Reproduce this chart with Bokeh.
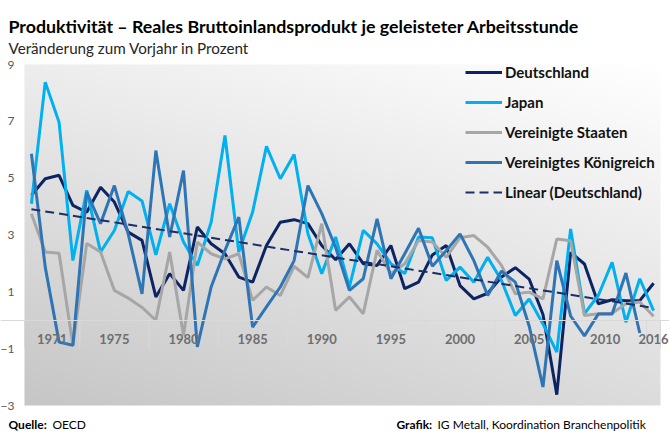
import numpy as np
from bokeh.plotting import figure
from bokeh.models import FixedTicker, LinearAxis, Legend, LegendItem, Range1d
from bokeh.core.properties import value
from bokeh.embed import file_html
from bokeh.resources import INLINE

# ---------------- data ----------------
years = list(range(1971, 2017))
deutschland = [4.40, 4.98, 5.10, 4.04, 3.80, 4.68, 4.16, 3.10, 2.81, 0.82,
               1.64, 1.05, 3.28, 2.69, 2.34, 1.52, 1.34, 2.63, 3.45, 3.54,
               3.40, 2.63, 2.13, 2.69, 1.99, 1.93, 2.63, 1.11, 1.34, 2.30,
               2.63, 1.22, 0.75, 0.95, 1.52, 1.85, 1.45, 0.20, -2.62, 2.39,
               1.98, 0.58, 0.72, 0.69, 0.69, 1.30]
japan = [4.10, 8.38, 6.97, 2.10, 4.57, 2.40, 3.16, 4.53, 4.20, 2.30,
         4.10, 2.75, 1.93, 3.45, 6.50, 2.40, 3.81, 6.12, 4.98, 5.83,
         3.04, 1.64, 2.93, 1.17, 3.16, 2.69, 1.99, 1.64, 2.93, 2.90,
         1.40, 1.87, 1.34, 2.22, 1.40, 0.17, 0.75, -0.13, -1.12, 3.21,
         0.23, 0.87, 2.04, -0.07, 1.46, 0.34]
usa = [3.75, 2.40, 2.36, -0.88, 2.70, 2.40, 1.05, 0.78, 0.45, 0.00,
       2.40, -0.53, 2.75, 2.34, 2.16, 2.34, 0.70, 1.17, 0.87, 1.90,
       1.50, 3.40, 0.35, 0.82, 0.23, 2.46, 1.64, 1.99, 2.81, 2.75,
       2.22, 2.90, 2.98, 2.57, 1.93, 0.93, 0.99, 0.75, 2.86, 2.80,
       0.17, 0.23, 0.25, 0.58, 0.64, 0.14]
uk = [5.86, 1.87, -0.77, -0.88, 4.51, 3.40, 4.74, 3.04, 0.93, 5.97,
      2.93, 5.27, -0.94, 1.17, 2.46, 3.63, -0.24, 0.47, 1.17, 2.10,
      4.74, 3.75, 2.57, 1.05, 1.46, 3.57, 1.46, 2.34, 3.24, 1.90,
      2.45, 3.04, 2.10, 0.87, 1.73, 1.34, -0.20, -2.35, 2.10, 0.15,
      -0.55, 0.22, 0.22, 1.66, -0.45, np.nan]

series_names = ["Deutschland", "Japan", "Vereinigte Staaten",
                "Vereinigtes Königreich", "Linear (Deutschland)"]

tick_labels = ["1971", "1975", "1980", "1985", "1990", "1995", "2000",
               "2005", "2010", "2016"]
group_starts = [1971, 1975, 1980, 1985, 1990, 1995, 2000, 2005, 2010, 2016]
group_ends = [1974, 1979, 1984, 1989, 1994, 1999, 2004, 2009, 2015, 2016]
y_ticks = [-3, -1, 1, 3, 5, 7, 9]

title = "Produktivität – Reales Bruttoinlandsprodukt je geleisteter Arbeitsstunde"
subtitle = "Veränderung zum Vorjahr in Prozent"
source_head, source_text = "Quelle:", "OECD"
credit_head, credit_text = "Grafik:", "IG Metall, Koordination Branchenpolitik"

# ---------------- layout (pixels) ----------------
W, H = 669, 434
PL, PR, PT, PB = 24, 660, 64, 405          # plot area box in pixels
xa, xb = years[0] - 0.5, years[-1] + 0.5    # plot area in data units
ya, yb = y_ticks[0], y_ticks[-1]
sx = (PR - PL) / (xb - xa)
sy = (PB - PT) / (yb - ya)
x_start = xa - PL / sx
x_end = xb + (W - PR) / sx
y_start = ya - (H - PB) / sy
y_end = yb + PT / sy


def X(px):
    return x_start + px / sx


def Y(py):
    return y_end - py / sy


p = figure(width=W, height=H, output_backend="svg", toolbar_location=None,
           x_range=Range1d(x_start, x_end), y_range=Range1d(y_start, y_end),
           x_axis_type=None, y_axis_type=None,
           min_border_left=0, min_border_right=0,
           min_border_top=0, min_border_bottom=0)
p.outline_line_color = None
p.xgrid.visible = False
p.ygrid.visible = False
p.background_fill_color = "white"
p.border_fill_color = "white"

# background gradient of the plot area
GH, GW = 80, 160
u = np.linspace(0, 1, GW)[None, :]
w = np.linspace(1, 0, GH)[:, None]   # fraction from top; row 0 is bottom
v = 255 - 18 * (1 - u) - 35 * w - 4 * (1 - u) * w
v = np.clip(v, 0, 255).astype(np.uint8)
img = np.empty((GH, GW), dtype=np.uint32)
view = img.view(dtype=np.uint8).reshape((GH, GW, 4))
view[:, :, 0] = v
view[:, :, 1] = v
view[:, :, 2] = v
view[:, :, 3] = 255
p.image_rgba(image=[img], x=xa, y=ya, dw=xb - xa, dh=yb - ya)

# y axis (at the left edge of the plot area)
yaxis = LinearAxis(ticker=FixedTicker(ticks=y_ticks), fixed_location=xa)
yaxis.axis_line_color = None
yaxis.major_tick_line_color = None
yaxis.minor_tick_line_color = None
yaxis.major_tick_out = 0
yaxis.major_tick_in = 0
yaxis.minor_tick_out = 0
yaxis.minor_tick_in = 0
yaxis.major_label_standoff = 10
yaxis.major_label_text_font = "Lato"
yaxis.major_label_text_font_size = "12px"
yaxis.major_label_text_color = "#595959"
p.add_layout(yaxis, "left")

# x axis crossing at 0, labels centred on year groups
centers = [(a + b) / 2 for a, b in zip(group_starts, group_ends)]
seps = [a - 0.5 for a in group_starts] + [group_ends[-1] + 0.5]
xaxis = LinearAxis(ticker=FixedTicker(ticks=centers, minor_ticks=[]),
                   fixed_location=0)
xaxis.major_label_overrides = {c: t for c, t in zip(centers, tick_labels)}
xaxis.axis_line_color = "#d9d9d9"
xaxis.major_tick_line_color = None
xaxis.minor_tick_line_color = None
xaxis.major_tick_out = 0
xaxis.major_tick_in = 0
xaxis.minor_tick_out = 0
xaxis.minor_tick_in = 0
xaxis.major_label_standoff = 14
xaxis.major_label_text_font = "Lato"
xaxis.major_label_text_font_style = "bold"
xaxis.major_label_text_font_size = "13px"
xaxis.major_label_text_color = "#6e6e6e"
p.add_layout(xaxis, "below")

# group separators below the axis line
p.segment(x0=seps, y0=[0] * len(seps), x1=seps, y1=[-28 / sy] * len(seps),
          line_color="#d9d9d9", line_width=1)

# trend line (linear fit of Deutschland)
coef = np.polyfit(years, deutschland, 1)
trend = list(np.polyval(coef, years))

r_de = p.line(years, deutschland, line_color="#0c2463", line_width=3)
r_jp = p.line(years, japan, line_color="#00b0f0", line_width=3)
r_us = p.line(years, usa, line_color="#a6a6a6", line_width=3)
r_uk = p.line(years, uk, line_color="#2e75b6", line_width=3)
r_tr = p.line(years, trend, line_color="#1a2f66", line_width=2, line_dash="9 5")

legend = Legend(items=[LegendItem(label=n, renderers=[r]) for n, r in
                       zip(series_names, [r_de, r_jp, r_us, r_uk, r_tr])],
                location=(465, 232), glyph_width=37, glyph_height=20,
                label_height=20, spacing=10, padding=0, margin=0,
                label_standoff=3, label_text_font="Lato",
                label_text_font_style="bold", label_text_font_size="15px",
                label_text_color="#111111",
                background_fill_alpha=0, border_line_alpha=0)
p.add_layout(legend)

# titles and footer as text
def put(px, py, txt, size, style="normal", color="#000000", align="left"):
    p.text(x=[X(px)], y=[Y(py)], text=[txt], text_font=value("Lato"),
           text_font_style=style, text_font_size=value(size),
           text_color=color, text_align=align, text_baseline="alphabetic")


put(8, 25, title, "17.8px", "bold")
put(8, 47, subtitle, "15.2px", "normal", "#262626")
put(8, 424, source_head, "12px", "bold")
put(52, 424, source_text, "12px")
put(396, 424, credit_head, "12px", "bold")
put(437, 424, credit_text, "12px")

open("out.html", "w").write(file_html(p, INLINE))
